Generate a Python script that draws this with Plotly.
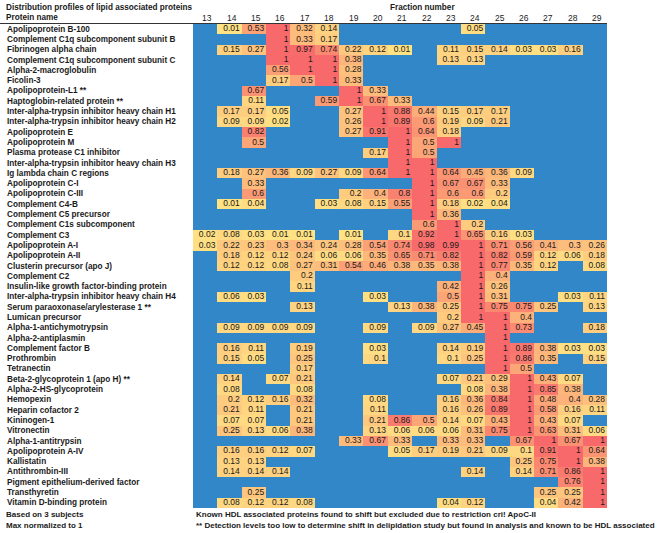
import plotly.graph_objects as go

N = None
fractions = list(range(13, 30))

proteins = [
    "Apolipoprotein B-100",
    "Complement C1q subcomponent subunit B",
    "Fibrinogen alpha chain",
    "Complement C1q subcomponent subunit C",
    "Alpha-2-macroglobulin",
    "Ficolin-3",
    "Apolipoprotein-L1 **",
    "Haptoglobin-related protein **",
    "Inter-alpha-trypsin inhibitor heavy chain H1",
    "Inter-alpha-trypsin inhibitor heavy chain H2",
    "Apolipoprotein E",
    "Apolipoprotein M",
    "Plasma protease C1 inhibitor",
    "Inter-alpha-trypsin inhibitor heavy chain H3",
    "Ig lambda chain C regions",
    "Apolipoprotein C-I",
    "Apolipoprotein C-III",
    "Complement C4-B",
    "Complement C5 precursor",
    "Complement C1s subcomponent",
    "Complement C3",
    "Apolipoprotein A-I",
    "Apolipoprotein A-II",
    "Clusterin precursor (apo J)",
    "Complement C2",
    "Insulin-like growth factor-binding protein",
    "Inter-alpha-trypsin inhibitor heavy chain H4",
    "Serum paraoxonase/arylesterase 1 **",
    "Lumican precursor",
    "Alpha-1-antichymotrypsin",
    "Alpha-2-antiplasmin",
    "Complement factor B",
    "Prothrombin",
    "Tetranectin",
    "Beta-2-glycoprotein 1 (apo H) **",
    "Alpha-2-HS-glycoprotein",
    "Hemopexin",
    "Heparin cofactor 2",
    "Kininogen-1",
    "Vitronectin",
    "Alpha-1-antitrypsin",
    "Apolipoprotein A-IV",
    "Kallistatin",
    "Antithrombin-III",
    "Pigment epithelium-derived factor",
    "Transthyretin",
    "Vitamin D-binding protein",
]

# one row per protein, columns = fractions 13..29 (None = not detected)
cell_values = [
    [N, 0.01, 0.53, 1, 0.32, 0.14, N, N, N, N, N, 0.05, N, N, N, N, N],
    [N, N, N, 1, 0.33, 0.17, N, N, N, N, N, N, N, N, N, N, N],
    [N, 0.15, 0.27, 1, 0.97, 0.74, 0.22, 0.12, 0.01, N, 0.11, 0.15, 0.14, 0.03, 0.03, 0.16, N],
    [N, N, N, 1, 1, 1, 0.38, N, N, N, 0.13, 0.13, N, N, N, N, N],
    [N, N, N, 0.56, 1, 1, 0.28, N, N, N, N, N, N, N, N, N, N],
    [N, N, N, 0.17, 0.5, 1, 0.33, N, N, N, N, N, N, N, N, N, N],
    [N, N, 0.67, N, N, N, 1, 0.33, N, N, N, N, N, N, N, N, N],
    [N, N, 0.11, N, N, 0.59, 1, 0.67, 0.33, N, N, N, N, N, N, N, N],
    [N, 0.17, 0.17, 0.05, N, N, 0.27, 1, 0.88, 0.44, 0.15, 0.17, 0.17, N, N, N, N],
    [N, 0.09, 0.09, 0.02, N, N, 0.26, 1, 0.89, 0.6, 0.19, 0.09, 0.21, N, N, N, N],
    [N, N, 0.82, N, N, N, 0.27, 0.91, 1, 0.64, 0.18, N, N, N, N, N, N],
    [N, N, 0.5, N, N, N, N, N, 1, 0.5, 1, N, N, N, N, N, N],
    [N, N, N, N, N, N, N, 0.17, 1, 0.5, N, N, N, N, N, N, N],
    [N, N, N, N, N, N, N, N, 1, 1, N, N, N, N, N, N, N],
    [N, 0.18, 0.27, 0.36, 0.09, 0.27, 0.09, 0.64, 1, 1, 0.64, 0.45, 0.36, 0.09, N, N, N],
    [N, N, 0.33, N, N, N, N, N, N, 1, 0.67, 0.67, 0.33, N, N, N, N],
    [N, N, 0.6, N, N, N, 0.2, 0.4, 0.8, 1, 0.6, 0.6, 0.2, N, N, N, N],
    [N, 0.01, 0.04, N, N, 0.03, 0.08, 0.15, 0.55, 1, 0.18, 0.02, 0.04, N, N, N, N],
    [N, N, N, N, N, N, N, N, N, 1, 0.36, N, N, N, N, N, N],
    [N, N, N, N, N, N, N, N, N, 0.6, 1, 0.2, N, N, N, N, N],
    [0.02, 0.08, 0.03, 0.01, 0.01, N, 0.01, N, 0.1, 0.92, 1, 0.65, 0.16, 0.03, N, N, N],
    [0.03, 0.22, 0.23, 0.3, 0.34, 0.24, 0.28, 0.54, 0.74, 0.98, 0.99, 1, 0.71, 0.56, 0.41, 0.3, 0.26],
    [N, 0.18, 0.12, 0.12, 0.24, 0.06, 0.06, 0.35, 0.65, 0.71, 0.82, 1, 0.82, 0.59, 0.12, 0.06, 0.18],
    [N, 0.12, 0.12, 0.08, 0.27, 0.31, 0.54, 0.46, 0.38, 0.35, 0.38, 1, 0.77, 0.35, 0.12, N, 0.08],
    [N, N, N, N, 0.2, N, N, N, N, N, N, 1, 0.4, N, N, N, N],
    [N, N, N, N, 0.11, N, N, N, N, N, 0.42, 1, 0.26, N, N, N, N],
    [N, 0.06, 0.03, N, N, N, N, 0.03, N, N, 0.5, 1, 0.31, N, N, 0.03, 0.11],
    [N, N, N, N, 0.13, N, N, N, 0.13, 0.38, 0.25, 1, 0.75, 0.75, 0.25, N, 0.13],
    [N, N, N, N, N, N, N, N, N, N, 0.2, 1, 1, 0.4, N, N, N],
    [N, 0.09, 0.09, 0.09, 0.09, N, N, 0.09, N, 0.09, 0.27, 0.45, 1, 0.73, N, N, 0.18],
    [N, N, N, N, N, N, N, N, N, N, N, N, 1, N, N, N, N],
    [N, 0.16, 0.11, N, 0.19, N, N, 0.03, N, N, 0.14, 0.19, 1, 0.89, 0.38, 0.03, 0.03],
    [N, 0.15, 0.05, N, 0.25, N, N, 0.1, N, N, 0.1, 0.25, 1, 0.86, 0.35, N, 0.15],
    [N, N, N, N, 0.17, N, N, N, N, N, N, N, 1, 0.5, N, N, N],
    [N, 0.14, N, 0.07, 0.21, N, N, N, N, N, 0.07, 0.21, 0.29, 1, 0.43, 0.07, N],
    [N, 0.08, N, N, 0.08, N, N, N, N, N, N, 0.08, 0.38, 1, 0.85, 0.38, N],
    [N, 0.2, 0.12, 0.16, 0.32, N, N, 0.08, N, N, 0.16, 0.36, 0.84, 1, 0.48, 0.4, 0.28],
    [N, 0.21, 0.11, N, 0.21, N, N, 0.11, N, N, 0.16, 0.26, 0.89, 1, 0.58, 0.16, 0.11],
    [N, 0.07, 0.07, N, 0.21, N, N, 0.21, 0.86, 0.5, 0.14, 0.07, 0.43, 1, 0.43, 0.07, N],
    [N, 0.25, 0.13, 0.06, 0.38, N, N, 0.13, 0.06, 0.06, 0.06, 0.31, 0.75, 1, 0.63, 0.31, 0.06],
    [N, N, N, N, N, N, 0.33, 0.67, 0.33, N, 0.33, 0.33, N, 0.67, 1, 0.67, 1],
    [N, 0.16, 0.16, 0.12, 0.07, N, N, N, 0.05, 0.17, 0.19, 0.21, 0.09, 0.1, 0.91, 1, 0.64],
    [N, 0.13, 0.13, N, N, N, N, N, N, N, N, N, N, 0.25, 0.75, 1, 0.38],
    [N, 0.14, 0.14, 0.14, N, N, N, N, N, N, N, 0.14, N, 0.14, 0.71, 0.86, 1],
    [N, N, N, N, N, N, N, N, N, N, N, N, N, N, N, 0.76, 1],
    [N, N, 0.25, N, N, N, N, N, N, N, N, N, N, N, 0.25, 0.25, 1],
    [N, 0.08, 0.12, 0.12, 0.08, N, N, N, N, N, 0.04, 0.12, N, N, 0.04, 0.42, 1],
]

title_text = "Distribution profiles of lipid associated proteins"
header_text = "Protein name"
axis_title = "Fraction number"
footer_left = ["Based on 3 subjects", "Max normalized to 1"]
footer_right = [
    "Known HDL associated proteins found to shift but excluded due to restriction cri! ApoC-II",
    "** Detection levels too low to determine shift in delipidation study but found in analysis and known to be HDL associated",
]

# ---- layout geometry (pixels) ----
W, H = 664, 533
TABLE_X0, TABLE_X1 = 193, 607
TABLE_Y0, TABLE_Y1 = 24, 508
BLUE = "#3187C8"
FONT = "Liberation Sans Narrow, Arial Narrow, Liberation Sans, Arial, sans-serif"
TXT = "#1a1a1a"
LABEL_SIZE = 8.2
FOOT_SIZE = 8.0


def py(p):
    return (H - p) / H


def px(p):
    return p / W


rows = list(range(len(proteins)))

fig = go.Figure()
fig.add_trace(go.Heatmap(
    x=fractions, y=rows, z=cell_values,
    colorscale=[[0, "#FFE384"], [1, "#F8696B"]],
    zmin=0, zmax=1, showscale=False, hoverinfo="skip",
    xgap=0, ygap=0,
))

tx, ty, tt = [], [], []
for r, row in enumerate(cell_values):
    for c, v in enumerate(row):
        if v is not None:
            tx.append(fractions[c] + 0.42)
            ty.append(r)
            tt.append(f"{v:g}")
fig.add_trace(go.Scatter(
    x=tx, y=ty, text=tt, mode="text", textposition="middle left",
    textfont=dict(family=FONT, size=8.5, color=TXT),
    hoverinfo="skip", showlegend=False,
))

ann = []
for r, name in enumerate(proteins):
    ann.append(dict(x=px(5), xref="paper", y=r, yref="y", text=name,
                    xanchor="left", yanchor="middle", showarrow=False,
                    font=dict(family=FONT, size=LABEL_SIZE, color=TXT, weight="bold")))
for f in fractions:
    ann.append(dict(x=f + 0.38, xref="x", y=py(18), yref="paper", text=str(f),
                    xanchor="right", yanchor="middle", showarrow=False,
                    font=dict(family=FONT, size=8.5, color=TXT)))
ann.append(dict(x=px(4), xref="paper", y=py(18), yref="paper", text=header_text,
                xanchor="left", yanchor="middle", showarrow=False,
                font=dict(family=FONT, size=LABEL_SIZE, color=TXT, weight="bold")))
ann.append(dict(x=px(4), xref="paper", y=py(7), yref="paper", text=title_text,
                xanchor="left", yanchor="middle", showarrow=False,
                font=dict(family=FONT, size=LABEL_SIZE, color=TXT, weight="bold")))
ann.append(dict(x=px(422), xref="paper", y=py(7), yref="paper", text=axis_title,
                xanchor="center", yanchor="middle", showarrow=False,
                font=dict(family=FONT, size=LABEL_SIZE, color=TXT, weight="bold")))
for i, t in enumerate(footer_left):
    ann.append(dict(x=px(4), xref="paper", y=py(514 + 11 * i), yref="paper", text=t,
                    xanchor="left", yanchor="middle", showarrow=False,
                    font=dict(family=FONT, size=FOOT_SIZE, color=TXT, weight="bold")))
for i, t in enumerate(footer_right):
    ann.append(dict(x=px(194), xref="paper", y=py(514 + 11 * i), yref="paper", text=t,
                    xanchor="left", yanchor="middle", showarrow=False,
                    font=dict(family=FONT, size=FOOT_SIZE, color=TXT, weight="bold")))

shapes = [dict(type="line", xref="paper", yref="paper", x0=0, x1=px(TABLE_X1),
               y0=py(TABLE_Y0 - 0.5), y1=py(TABLE_Y0 - 0.5),
               line=dict(color="#333333", width=1))]

fig.update_layout(
    width=W, height=H,
    margin=dict(l=0, r=0, t=0, b=0),
    paper_bgcolor="white", plot_bgcolor=BLUE,
    xaxis=dict(range=[12.5, 29.5], domain=[px(TABLE_X0), px(TABLE_X1)],
               visible=False, fixedrange=True),
    yaxis=dict(range=[len(proteins) - 0.5, -0.5], domain=[py(TABLE_Y1), py(TABLE_Y0)],
               visible=False, fixedrange=True),
    annotations=ann, shapes=shapes, showlegend=False,
)

fig.write_html(
    "out.html",
    config={"displayModeBar": False},
    post_script="document.body.style.margin='0';document.body.style.overflow='hidden';",
)
